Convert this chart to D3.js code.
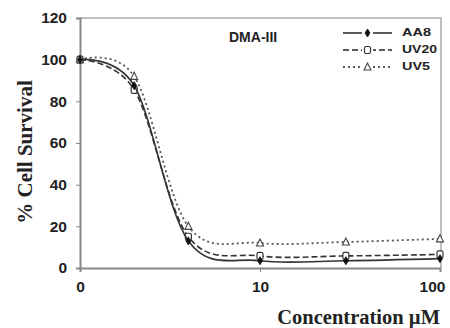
<!DOCTYPE html>
<meta charset="utf-8">
<style>
body { margin: 0; background: #fff; }
.tick text { font: bold 15.5px "Liberation Sans", Arial, sans-serif; fill: #222; }
.axis path, .axis line { stroke: #888; }
.lbl { font-family: "Liberation Serif", "Times New Roman", serif; font-weight: bold; fill: #222; }
.leg text { font: bold 11px "Liberation Sans", Arial, sans-serif; fill: #222; }
</style>
<svg width="450" height="328"></svg>
<script src="https://d3js.org/d3.v7.min.js"></script>
<script>

// concentrations (the "0" point is drawn at 1 on the log axis)
var conc = [1, 2, 4, 10, 30, 100];
var aa8  = [100, 87.5, 13, 3.5, 3.5, 4.5];
var uv20 = [100, 85.5, 15, 5.8, 5.8, 6.5];
var uv5  = [100, 92, 20, 12, 12.5, 14];

var xTicks = [1, 10, 100];
var xTickLabels = ["0", "10", "100"];
var yTicks = [0, 20, 40, 60, 80, 100, 120];

var series = [
  { name: "AA8",  values: aa8,  dash: null,    marker: "diamond",  w: 29 },
  { name: "UV20", values: uv20, dash: "6,3",   marker: "square",   w: 35 },
  { name: "UV5",  values: uv5,  dash: "2,3",   marker: "triangle", w: 28 }
];

var svg = d3.select("svg"),
    mLeft = 80, mRight = 441, mTop = 18, mBottom = 268;

var x = d3.scaleLog().domain([1, 100]).range([mLeft, mRight - 1]);
var y = d3.scaleLinear().domain([0, 120]).range([mBottom, mTop]);

// frame top/right
svg.append("path")
    .attr("d", "M" + mLeft + "," + mTop + "H" + mRight + "V" + mBottom)
    .attr("fill", "none").attr("stroke", "#aaa").attr("stroke-width", 1.5);

// y axis
var ya = svg.append("g").attr("class", "axis")
    .attr("transform", "translate(" + mLeft + ",0)")
    .call(d3.axisLeft(y).tickValues(yTicks).tickSize(4).tickPadding(9));
ya.select(".domain").attr("stroke-width", 2);

// x axis
var xa = svg.append("g").attr("class", "axis")
    .attr("transform", "translate(0," + mBottom + ")")
    .call(d3.axisBottom(x).tickValues(xTicks).tickSize(4).tickPadding(9)
      .tickFormat(function(d, i) { return xTickLabels[i]; }));
xa.select(".domain").attr("stroke-width", 2);
xa.selectAll(".tick text").attr("dx", function(d, i) { return i === 2 ? -8 : 0; });

// lines
var line = d3.line()
    .x(function(d) { return x(d[0]); })
    .y(function(d) { return y(d[1]); })
    .curve(d3.curveCardinal.tension(0));

function marker(g, type, cx, cy) {
  if (type === "diamond") {
    g.append("path").attr("d", "M" + cx + "," + (cy - 4) + "L" + (cx + 2.5) + "," + cy + "L" + cx + "," + (cy + 4) + "L" + (cx - 2.5) + "," + cy + "Z")
      .attr("fill", "#111").attr("stroke", "#111").attr("stroke-width", 0.8);
  } else if (type === "square") {
    g.append("rect").attr("x", cx - 3).attr("y", cy - 3.5).attr("width", 6).attr("height", 7).attr("rx", 1.5)
      .attr("fill", "#fff").attr("stroke", "#333").attr("stroke-width", 1.2);
  } else {
    g.append("path").attr("d", "M" + cx + "," + (cy - 4) + "L" + (cx + 3.5) + "," + (cy + 3) + "L" + (cx - 3.5) + "," + (cy + 3) + "Z")
      .attr("fill", "#fff").attr("stroke", "#444").attr("stroke-width", 1.1);
  }
}

series.slice().reverse().forEach(function(s) {
  var pts = conc.map(function(c, i) { return [c, s.values[i]]; });
  svg.append("path")
      .attr("d", line(pts))
      .attr("fill", "none")
      .attr("stroke", s.name === "UV5" ? "#555" : "#333")
      .attr("stroke-width", s.name === "UV5" ? 1.8 : 1.6)
      .attr("stroke-dasharray", s.dash);
  var g = svg.append("g");
  pts.forEach(function(p) { marker(g, s.marker, x(p[0]), y(p[1])); });
});

// title
svg.append("text").attr("x", 229).attr("y", 42)
    .style("font", "bold 14px 'Liberation Sans', Arial, sans-serif").attr("fill", "#222")
    .text("DMA-III");

// legend
var leg = svg.append("g").attr("class", "leg");
series.forEach(function(s, i) {
  var ly = 33 + i * 17;
  leg.append("line").attr("x1", 343).attr("x2", 392).attr("y1", ly).attr("y2", ly)
      .attr("stroke", "#222").attr("stroke-width", 1.6).attr("stroke-dasharray", s.dash);
  var mg = leg.append("g");
  mg.append("rect").attr("x", 362).attr("y", ly - 4).attr("width", 11).attr("height", 8).attr("fill", "#fff");
  marker(mg, s.marker, 367.5, ly);
  leg.append("text").attr("x", 402).attr("y", ly + 3)
      .attr("textLength", s.w).attr("lengthAdjust", "spacingAndGlyphs")
      .text(s.name);
});

// axis labels
svg.append("text").attr("class", "lbl")
    .attr("transform", "translate(32,152) rotate(-90)")
    .attr("text-anchor", "middle")
    .style("font-size", "21px")
    .text("% Cell Survival");

svg.append("text").attr("class", "lbl")
    .attr("x", 440).attr("y", 324)
    .attr("text-anchor", "end")
    .style("font-size", "20.5px")
    .text("Concentration \u00b5M");

</script>
